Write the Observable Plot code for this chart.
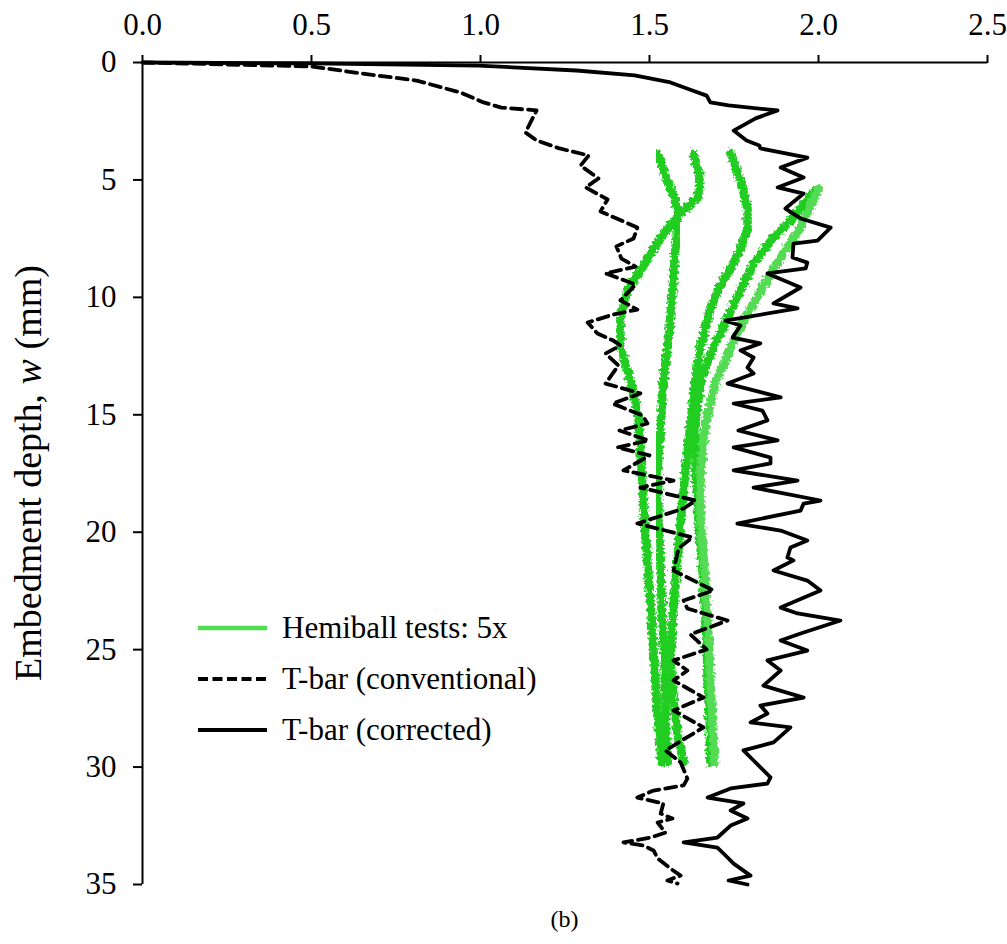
<!DOCTYPE html>
<html>
<head>
<meta charset="utf-8">
<script src="https://cdn.jsdelivr.net/npm/d3@7"></script>
<script src="https://cdn.jsdelivr.net/npm/@observablehq/plot@0.6"></script>
<style>
  html, body { margin: 0; padding: 0; background: #fff; }
  #chart { width: 1007px; }
  #caption { margin-left: 142px; width: 845px; text-align: center;
             font-family: "Liberation Serif", "Times New Roman", serif; font-size: 24px; line-height: 28px; }
</style>
</head>
<body>
<div id="chart"></div>
<div id="caption">(b)</div>
<script>
// Axis ticks
const xTicks = [0, 0.5, 1.0, 1.5, 2.0, 2.5];
const yTicks = [0, 5, 10, 15, 20, 25, 30, 35];

// Legend entries
const legendLabels = ["Hemiball tests: 5x", "T-bar (conventional)", "T-bar (corrected)"];

// T-bar, conventional resistance: [depth w (mm), resistance]
const tbarConventional = [
  [0, 0], [0.17, 0.5], [0.47, 0.651], [0.77, 0.811], [1.28, 0.941], [1.70, 1.009],
  [1.92, 1.062], [2.04, 1.166], [2.55, 1.148], [2.98, 1.133], [3.32, 1.166], [3.66, 1.234],
  [3.96, 1.320], [4.39, 1.296], [4.94, 1.349], [5.32, 1.311], [5.83, 1.376], [6.34, 1.355],
  [7.03, 1.464], [7.49, 1.453], [7.83, 1.402], [8.35, 1.417], [8.69, 1.459], [8.98, 1.370],
  [9.45, 1.459], [10.13, 1.414], [10.52, 1.464], [10.73, 1.393], [11.07, 1.317], [11.54, 1.346],
  [11.84, 1.393], [12.05, 1.414], [12.39, 1.370], [12.90, 1.408], [13.67, 1.370], [14.09, 1.473],
  [14.52, 1.391], [15.03, 1.479], [15.37, 1.494], [15.67, 1.411], [16.09, 1.497], [16.39, 1.405],
  [16.73, 1.500], [17.37, 1.423], [17.80, 1.571], [18.10, 1.473], [18.65, 1.636], [18.99, 1.601],
  [19.63, 1.464], [20.22, 1.627], [20.69, 1.586], [21.63, 1.571], [22.48, 1.689], [22.91, 1.601],
  [23.25, 1.612], [23.76, 1.731], [24.35, 1.621], [24.99, 1.669], [25.46, 1.571], [25.89, 1.612],
  [26.31, 1.571], [27.04, 1.660], [27.59, 1.571], [28.31, 1.660], [29.29, 1.547], [29.80, 1.592],
  [30.49, 1.612], [30.78, 1.601], [31.00, 1.512], [31.30, 1.464], [31.55, 1.541], [31.98, 1.533],
  [32.19, 1.568], [32.36, 1.524], [32.79, 1.547], [33.00, 1.503], [33.21, 1.423], [33.34, 1.482],
  [33.55, 1.512], [33.89, 1.524], [34.32, 1.562], [34.62, 1.592], [34.83, 1.553], [34.96, 1.583]
];

// T-bar, corrected resistance: [depth w (mm), resistance]
const tbarCorrected = [
  [0, 0], [0.04, 0.5], [0.13, 0.994], [0.34, 1.284], [0.55, 1.456], [0.85, 1.562],
  [1.19, 1.627], [1.41, 1.669], [1.70, 1.680], [1.83, 1.734], [2.04, 1.879], [2.38, 1.814],
  [2.90, 1.749], [3.32, 1.787], [3.53, 1.825], [3.66, 1.828], [4.05, 1.967], [4.47, 1.888],
  [4.90, 1.956], [5.32, 1.879], [5.58, 1.956], [6.22, 1.902], [6.64, 1.947], [7.03, 2.036],
  [7.58, 1.997], [7.71, 1.926], [8.30, 1.923], [8.52, 1.967], [8.77, 1.962], [8.98, 1.849],
  [9.58, 1.947], [10.26, 1.867], [10.47, 1.938], [10.99, 1.725], [11.20, 1.769], [11.71, 1.746],
  [11.96, 1.828], [12.26, 1.769], [12.56, 1.808], [12.99, 1.790], [13.24, 1.808], [13.67, 1.731],
  [14.26, 1.888], [14.52, 1.749], [14.82, 1.834], [15.24, 1.849], [15.67, 1.763], [16.09, 1.879],
  [16.39, 1.749], [16.82, 1.858], [17.07, 1.858], [17.37, 1.749], [17.80, 1.938], [18.10, 1.808],
  [18.65, 2.006], [18.78, 1.956], [19.08, 1.947], [19.63, 1.760], [19.93, 1.888], [20.35, 1.967],
  [20.65, 1.917], [21.08, 1.908], [21.20, 1.926], [21.63, 1.867], [22.06, 1.967], [22.48, 2.006],
  [23.21, 1.888], [23.46, 1.938], [23.76, 2.065], [24.31, 1.947], [24.61, 1.888], [25.04, 1.967],
  [25.46, 1.849], [25.89, 1.888], [26.53, 1.837], [27.04, 1.956], [27.38, 1.828], [27.72, 1.849],
  [28.10, 1.799], [28.31, 1.917], [28.95, 1.867], [29.29, 1.778], [29.72, 1.808], [30.44, 1.858],
  [30.70, 1.849], [30.91, 1.740], [31.30, 1.672], [31.55, 1.778], [31.85, 1.740], [32.19, 1.790],
  [32.49, 1.740], [33.00, 1.701], [33.21, 1.601], [33.43, 1.701], [33.68, 1.719], [34.11, 1.749],
  [34.62, 1.799], [34.83, 1.734], [35.00, 1.790]
];

// Hemiball tests (five runs): [depth w (mm), resistance]
const hemiball1 = [
  [3.87, 1.524], [4.81, 1.547], [5.66, 1.571], [6.43, 1.586], [7.88, 1.577], [9.71, 1.568],
  [11.84, 1.556], [13.54, 1.541], [15.37, 1.533], [17.37, 1.524], [19.50, 1.527], [21.63, 1.533],
  [23.76, 1.538], [25.46, 1.544], [27.16, 1.547], [28.87, 1.550], [29.80, 1.556]
];
const hemiball2 = [
  [3.87, 1.630], [5.02, 1.651], [5.75, 1.642], [6.43, 1.592], [7.45, 1.533], [8.86, 1.473],
  [9.71, 1.435], [10.86, 1.414], [12.14, 1.414], [13.54, 1.444], [15.03, 1.467], [16.52, 1.473],
  [18.65, 1.482], [20.78, 1.491], [22.91, 1.503], [25.04, 1.512], [27.16, 1.521], [28.87, 1.530],
  [29.80, 1.536]
];
const hemiball3 = [
  [3.87, 1.740], [5.02, 1.769], [6.17, 1.790], [7.15, 1.790], [8.56, 1.749], [9.71, 1.701],
  [10.86, 1.672], [12.14, 1.651], [13.54, 1.636], [15.37, 1.621], [17.37, 1.607], [19.50, 1.592],
  [21.63, 1.580], [23.76, 1.568], [25.46, 1.562], [27.16, 1.571], [28.87, 1.586], [29.80, 1.601]
];
const hemiball4 = [
  [5.53, 1.985], [6.73, 1.917], [7.45, 1.867], [8.56, 1.808], [9.71, 1.769], [10.86, 1.731],
  [12.14, 1.689], [13.54, 1.651], [15.37, 1.636], [17.37, 1.636], [19.50, 1.645], [21.63, 1.657],
  [23.76, 1.666], [26.31, 1.672], [28.02, 1.678], [29.80, 1.680]
];
const hemiball5 = [
  [5.36, 2.000], [7.03, 1.947], [8.13, 1.896], [9.58, 1.834], [10.86, 1.784], [12.14, 1.740],
  [13.67, 1.695], [15.37, 1.666], [17.37, 1.651], [19.50, 1.651], [21.63, 1.663], [23.76, 1.672],
  [26.31, 1.680], [28.02, 1.686], [29.80, 1.692]
];

const GREEN = "#20cd20";
const GREEN_LIGHT = "#52dc52";
const FONT = "Liberation Serif, Times New Roman, serif";

const hemiLine = (data, color) => Plot.line(data, {
  x: d => d[1], y: d => d[0], stroke: color, strokeWidth: 8.5,
  strokeLinejoin: "round", strokeLinecap: "round", className: "hemi"
});

const chart = Plot.plot({
  width: 1007,
  height: 905,
  marginLeft: 142,
  marginRight: 20,
  marginTop: 62,
  marginBottom: 21,
  style: { fontFamily: FONT, fontSize: "31px", color: "#000", background: "#fff" },
  x: { domain: [0, 2.5] },
  y: { domain: [0, 35], reverse: true },
  marks: [
    hemiLine(hemiball1, GREEN),
    hemiLine(hemiball2, GREEN),
    hemiLine(hemiball3, GREEN),
    hemiLine(hemiball4, GREEN),
    hemiLine(hemiball5, GREEN_LIGHT),
    Plot.line(tbarConventional, {
      x: d => d[1], y: d => d[0], stroke: "#000", strokeWidth: 3.8,
      strokeDasharray: "11,6", strokeLinejoin: "round"
    }),
    Plot.line(tbarCorrected, {
      x: d => d[1], y: d => d[0], stroke: "#000", strokeWidth: 3.8, strokeLinejoin: "round"
    }),
    Plot.ruleY([0], { stroke: "#000", strokeWidth: 2 }),
    Plot.ruleX([0], { stroke: "#000", strokeWidth: 2 }),
    Plot.axisX(xTicks, {
      anchor: "top", tickSize: 8, tickPadding: 20, strokeWidth: 2,
      tickFormat: d3.format(".1f"), label: null, fontSize: 31
    }),
    Plot.axisY(yTicks, {
      anchor: "left", tickSize: 9, tickPadding: 17, strokeWidth: 2,
      tickFormat: d3.format("d"), label: null, fontSize: 31
    })
  ]
});

document.getElementById("chart").appendChild(chart);

const svg = d3.select(chart);

// Rough, speckled edge for the hemiball traces
const defs = svg.insert("defs", ":first-child");
const f = defs.append("filter").attr("id", "rough")
  .attr("x", "-5%").attr("y", "-5%").attr("width", "110%").attr("height", "110%");
f.append("feTurbulence").attr("type", "fractalNoise").attr("baseFrequency", "0.35")
  .attr("numOctaves", 2).attr("seed", 3).attr("result", "noise");
f.append("feDisplacementMap").attr("in", "SourceGraphic").attr("in2", "noise")
  .attr("scale", 7).attr("xChannelSelector", "R").attr("yChannelSelector", "G");
svg.selectAll("g.hemi").attr("filter", "url(#rough)");

// Y-axis title with italic symbol
const yt = svg.append("text")
  .attr("transform", "translate(41,473) rotate(-90)")
  .attr("text-anchor", "middle")
  .attr("font-family", FONT)
  .attr("font-size", 38)
  .attr("fill", "#000");
yt.append("tspan").text("Embedment depth, ");
yt.append("tspan").attr("font-style", "italic").text("w");
yt.append("tspan").text(" (mm)");

// Legend
const legendStyles = [
  { stroke: GREEN_LIGHT, width: 4.5, dash: null },
  { stroke: "#000", width: 3.8, dash: "10,4.5" },
  { stroke: "#000", width: 3.8, dash: null }
];
const lg = svg.append("g").attr("font-family", FONT).attr("font-size", 31)
  .attr("text-anchor", "start");
legendLabels.forEach((label, i) => {
  const yy = 628 + i * 51;
  const s = legendStyles[i];
  const ln = lg.append("line").attr("x1", 198).attr("x2", 267).attr("y1", yy).attr("y2", yy)
    .attr("stroke", s.stroke).attr("stroke-width", s.width);
  if (s.dash) ln.attr("stroke-dasharray", s.dash);
  lg.append("text").attr("x", 282).attr("y", yy + 10).attr("fill", "#000").text(label);
});
</script>
</body>
</html>
